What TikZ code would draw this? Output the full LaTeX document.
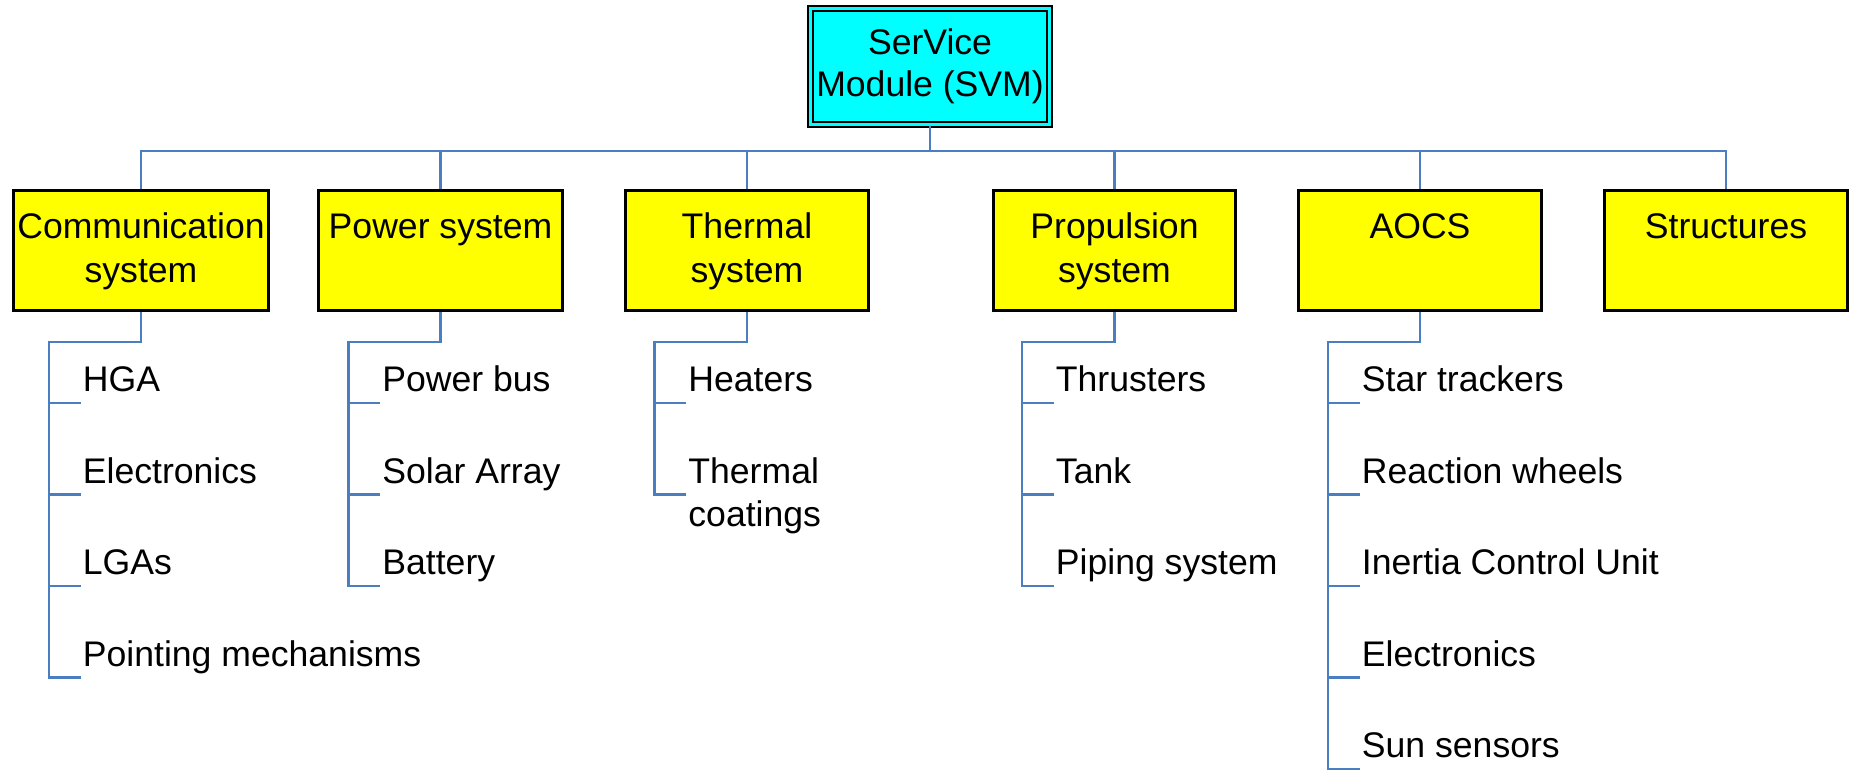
\documentclass[tikz,border=0pt]{standalone}
\usepackage{fontspec}
\setmainfont{Liberation Sans}
\definecolor{linkblue}{RGB}{74,126,193}
\definecolor{boxyellow}{RGB}{255,255,0}
\definecolor{boxcyan}{RGB}{0,255,255}
% two-line text blocks whose baseline is the first line
\newcommand\cstack[2]{\begin{tabular}[t]{@{}c@{}}#1\\#2\end{tabular}}
\newcommand\lstack[2]{\begin{tabular}[t]{@{}l@{}}#1\\#2\end{tabular}}
\tikzset{
  conn/.style={draw=linkblue, line width=1.45pt, line join=miter},
  topbox/.style={fill=boxcyan, draw=black, double=boxcyan, line width=1.15pt,
    double distance=1.15pt, inner sep=0pt, minimum width=119.5pt,
    text height=23.25pt, text depth=34.75pt, anchor=base,
    font=\fontsize{17.8}{21}\selectfont},
  subsys/.style={fill=boxyellow, draw=black, line width=1.4pt, inner sep=0pt,
    minimum width=121.5pt, text height=24.25pt, text depth=35.75pt, anchor=base,
    font=\fontsize{17.8}{21.5}\selectfont},
  item/.style={anchor=south west, inner xsep=1pt, inner ysep=0pt,
    text depth=5.5pt, font=\fontsize{17.8}{21.5}\selectfont}
}
\begin{document}
\begin{tikzpicture}[x=0.5pt, y=-0.5pt]
\useasboundingbox (0,0) rectangle (1851,770);

% root
\node[topbox] (svm) at (930,55) {\cstack{SerVice}{Module (SVM)}};

% subsystems
\node[subsys, minimum width=127.5pt] (comm) at (141,239) {\cstack{Communication}{system}};
\node[subsys, minimum width=122pt] (power) at (440.5,239) {Power system};
\node[subsys] (thermal) at (747,239) {\cstack{Thermal}{system}};
\node[subsys, minimum width=121pt] (prop) at (1114.5,239) {\cstack{Propulsion}{system}};
\node[subsys] (aocs) at (1420,239) {AOCS};
\node[subsys] (struct) at (1726,239) {Structures};

% level of the horizontal bus and of the branch elbows
\coordinate (bus) at (0,151);
\coordinate (commE) at (49,342);
\coordinate (powerE) at (348.5,342);
\coordinate (thermalE) at (654.5,342);
\coordinate (propE) at (1022,342);
\coordinate (aocsE) at (1328,342);

% components
\node[item] (hga)   at (80.5,403)   {HGA};
\node[item] (celec) at (80.5,494.5) {Electronics};
\node[item] (lga)   at (80.5,586)   {LGAs};
\node[item] (point) at (80.5,677.5) {Pointing mechanisms};

\node[item] (pbus)  at (380,403)   {Power bus};
\node[item] (solar) at (380,494.5) {Solar Array};
\node[item] (batt)  at (380,586)   {Battery};

\node[item] (heat)  at (686,403)   {Heaters};
\node[item] (coat)  at (686,494.5) {\lstack{Thermal}{coatings}};

\node[item] (thr)   at (1053.5,403)   {Thrusters};
\node[item] (tank)  at (1053.5,494.5) {Tank};
\node[item] (pipe)  at (1053.5,586)   {Piping system};

\node[item] (star)  at (1359.5,403)   {Star trackers};
\node[item] (rw)    at (1359.5,494.5) {Reaction wheels};
\node[item] (icu)   at (1359.5,586)   {Inertia Control Unit};
\node[item] (aelec) at (1359.5,677.5) {Electronics};
\node[item] (sun)   at (1359.5,769)   {Sun sensors};

% root to subsystems
\foreach \s in {comm,power,thermal,prop,aocs,struct}
  \draw[conn] (svm.south) -- (svm.south |- bus) -| (\s.north);

% subsystems to components
\foreach \p/\c in {comm/hga,comm/celec,comm/lga,comm/point,
                   power/pbus,power/solar,power/batt,
                   thermal/heat,thermal/coat,
                   prop/thr,prop/tank,prop/pipe,
                   aocs/star,aocs/rw,aocs/icu,aocs/aelec,aocs/sun}
  \draw[conn] (\p.south) |- (\p E) -- (\p E |- \c.south west) -- (\c.south west);
\end{tikzpicture}
\end{document}
